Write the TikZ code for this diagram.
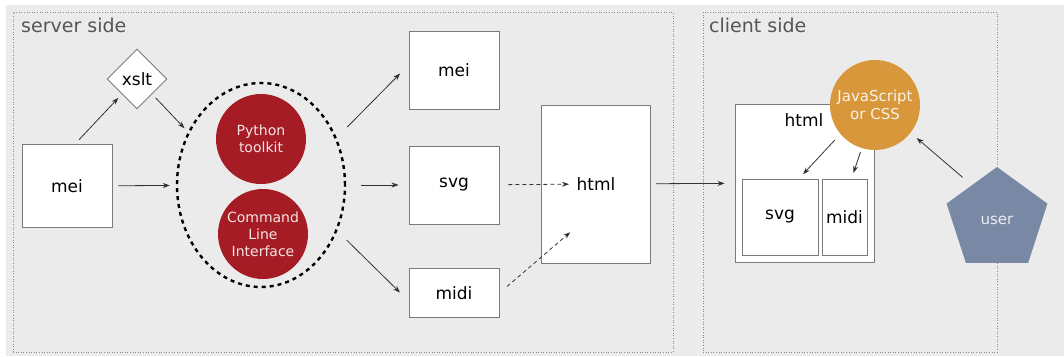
\documentclass[tikz,border=0pt]{standalone}
\usepackage{fontspec}
\setmainfont{DejaVu Sans}
\usetikzlibrary{shapes.geometric,arrows.meta}
\definecolor{bggray}{HTML}{EBEBEB}
\definecolor{toolred}{HTML}{A61C25}
\definecolor{jsorange}{HTML}{D8973A}
\definecolor{userblue}{HTML}{7888A5}
\definecolor{linegray}{HTML}{7A7A7A}
\definecolor{titlegray}{HTML}{555555}

\begin{document}
\begin{tikzpicture}[x=1pt,y=-1pt,>={Stealth[length=7pt,width=5pt]}]
        \tikzstyle{region}=[draw=black!45,dotted,line width=0.6pt,inner sep=0pt]
        \tikzstyle{regiontitle}=[anchor=base west,inner sep=0pt,text=titlegray,font=\fontsize{19}{23}\selectfont]
        \tikzstyle{doc}=[draw=linegray,fill=white,line width=0.9pt,inner sep=0pt,font=\fontsize{17}{20}\selectfont]
        \tikzstyle{tool}=[circle,fill=toolred,text=white!88!toolred,minimum size=90pt,inner sep=0pt,align=center,font=\fontsize{14}{17}\selectfont]
        \tikzstyle{edge}=[draw=black!80,line width=0.8pt]

        \useasboundingbox (0,0) rectangle (1064,356);
        \fill[bggray] (6,5) rectangle (1064,356);

       \begin{scope}
         % server side
         \node [region,minimum width=660pt,minimum height=340pt] (server) at (343,182) {};
         \node [regiontitle] (servertitle) at (21,32) {server side};
         \node [doc,minimum width=90pt,minimum height=83pt] (mei) at (67,186) {mei};
         \node [doc,diamond,minimum size=60pt] (xslt) at (137,79) {xslt};
         \node [ellipse,draw=black,line width=2.4pt,dash pattern=on 4pt off 4pt,minimum width=168pt,minimum height=204pt] (tools) at (261,185) {};
         \node [tool] (python) at (261,139) {Python\\toolkit};
         \node [tool] (cli) at (263,234) {Command\\Line\\Interface};
         \node [doc,minimum width=90pt,minimum height=78pt] (meiout) at (454,70) {mei};
         \node [doc,minimum width=90pt,minimum height=78pt] (svg) at (454,185) {svg};
         \node [doc,minimum width=90pt,minimum height=49pt] (midi) at (454,293) {midi};
         \node [doc,minimum width=109pt,minimum height=158pt] (html) at (596,184) {html};

         % client side
         \node [region,minimum width=294pt,minimum height=340pt] (client) at (850,182) {};
         \node [regiontitle] (clienttitle) at (709,32) {client side};
         \node [doc,minimum width=139pt,minimum height=158pt] (chtml) at (804.5,183) {};
         \node [inner sep=0pt,font=\fontsize{17}{20}\selectfont] (chtmltitle) at (804,120) {html};
         \node [doc,minimum width=76pt,minimum height=76pt] (csvg) at (780,217) {svg};
         \node [doc,minimum width=45pt,minimum height=76pt] (cmidi) at (844.5,217) {midi};
         \node [tool,fill=jsorange,text=white!88!jsorange,font=\fontsize{15}{18}\selectfont] (js) at (875,105) {JavaScript\\or CSS};
         \node [regular polygon,regular polygon sides=5,fill=userblue,text=white!85!userblue,minimum size=106pt,inner sep=0pt,font=\fontsize{15}{18}\selectfont] (user) at (997,220) {user};

         \path[edge] ([xshift=8pt]mei.north) edge [->,shorten <=6pt,shorten >=5pt] (xslt.south west);
         \path[edge] (xslt.south east) edge [->,shorten <=5pt,shorten >=5pt] (tools.144);
         \path[edge] (mei) edge [->,shorten <=6pt,shorten >=6pt] (tools);
         \path[edge] (tools.32) edge [->,shorten <=15pt,shorten >=12pt] ([yshift=5pt]meiout.west);
         \path[edge] (tools) edge [->,shorten <=15pt,shorten >=10pt] (svg);
         \path[edge] (tools.-31) edge [->,shorten <=13pt,shorten >=12pt] ([yshift=-8pt]midi.west);
         \path[edge,dash pattern=on 4pt off 3pt] (svg) edge [->,shorten <=9pt,shorten >=27pt] (html.center);
         \path[edge,dash pattern=on 4pt off 3pt] (midi.east) edge [->,shorten <=10pt,shorten >=5pt] ([xshift=-22pt,yshift=-45pt]html.center);
         \path[edge] (html) edge [->,shorten <=5pt,shorten >=10pt] (chtml);
         \path[edge] (js.220) edge [->,shorten <=8pt,shorten >=6pt] ([xshift=19pt]csvg.north);
         \path[edge] (js.253) edge [->,shorten <=4pt,shorten >=6pt] ([xshift=7pt]cmidi.north);
         \path[edge] (user.side 1) edge [->,shorten <=12pt,shorten >=8pt] (js.-38);
        \end{scope}
      \end{tikzpicture}
\end{document}
